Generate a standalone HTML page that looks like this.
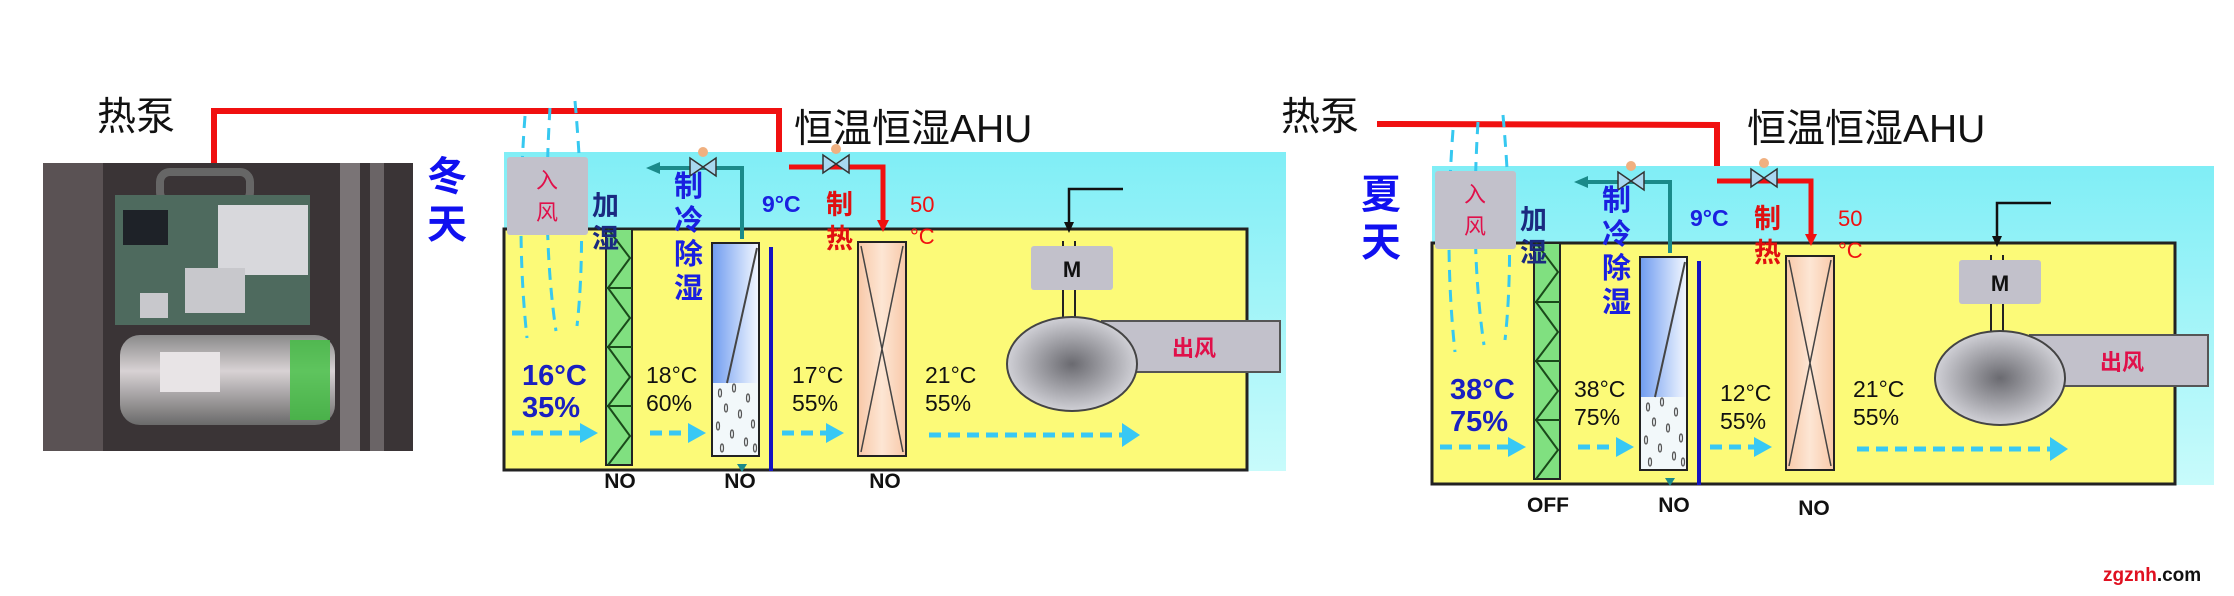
<!DOCTYPE html>
<html><head><meta charset="utf-8"><style>
html,body{margin:0;padding:0;background:#fff;}
svg{display:block;}
text{font-family:"Liberation Sans","Noto Sans CJK SC",sans-serif;}
</style></head><body>
<svg width="2234" height="596" viewBox="0 0 2234 596" xmlns="http://www.w3.org/2000/svg">
<defs>
<linearGradient id="cy" x1="0" y1="0" x2="0" y2="1"><stop offset="0" stop-color="#80eef6"/><stop offset="1" stop-color="#c8fbfb"/></linearGradient>
<linearGradient id="cc" x1="0" y1="0" x2="1" y2="0"><stop offset="0" stop-color="#6f9cf0"/><stop offset="1" stop-color="#f4f8ff"/></linearGradient>
<linearGradient id="hc" x1="0" y1="0" x2="1" y2="0"><stop offset="0" stop-color="#f8c8a8"/><stop offset=".5" stop-color="#fde6d4"/><stop offset="1" stop-color="#f8c8a8"/></linearGradient>
<radialGradient id="fan"><stop offset="0" stop-color="#6a6a70"/><stop offset="1" stop-color="#d0d0d6"/></radialGradient>
<linearGradient id="cyl" x1="0" y1="0" x2="0" y2="1"><stop offset="0" stop-color="#8a8a8a"/><stop offset=".4" stop-color="#d8d2d4"/><stop offset="1" stop-color="#6a6a6a"/></linearGradient>
<g id="base">
 <rect x="1432" y="166" width="782" height="319" fill="url(#cy)"/>
 <rect x="1432" y="243" width="743" height="241" fill="#fcfa78" stroke="#222" stroke-width="3"/>
 <g fill="none" stroke="#36c8f0" stroke-width="3" stroke-dasharray="12,8">
  <path d="M1453,130 Q1444,250 1455,352"/>
  <path d="M1478,122 Q1470,250 1484,345"/>
  <path d="M1503,115 Q1515,250 1505,340"/>
 </g>
 <rect x="1435" y="171" width="81" height="78" rx="3" fill="#c2c1cb"/>
 <rect x="1534" y="243" width="26" height="236" fill="#80e080" stroke="#222" stroke-width="2"/>
 <polyline points="1536,243 1558,272 1536,302 1558,332 1536,361 1558,391 1536,420 1558,450 1536,479" fill="none" stroke="#1a4a1a" stroke-width="2"/>
 <g stroke="#1a4a1a" stroke-width="2"><line x1="1534" y1="302" x2="1560" y2="302"/><line x1="1534" y1="361" x2="1560" y2="361"/><line x1="1534" y1="420" x2="1560" y2="420"/></g>
 <path d="M1670,253 V182 H1584" fill="none" stroke="#1a8a8a" stroke-width="4"/>
 <polygon points="1574,182 1588,176 1588,188" fill="#1a8a8a"/>
 <polygon points="1670,486 1665,478 1675,478" fill="#1a8a8a"/>
 <g stroke="#333" stroke-width="1.5" fill="#a8d8f0"><polygon points="1618,172 1644,190 1644,172 1618,190"/></g>
 <circle cx="1631" cy="166" r="5" fill="#f0b080"/>
 <rect x="1640" y="257" width="47" height="213" fill="url(#cc)" stroke="#222" stroke-width="2"/>
 <rect x="1641" y="397" width="45" height="72" fill="#f2f8fa"/>
 <g fill="none" stroke="#555" stroke-width="1.2">
  <ellipse cx="1648" cy="407" rx="1.5" ry="4"/><ellipse cx="1662" cy="402" rx="1.5" ry="4"/><ellipse cx="1676" cy="412" rx="1.5" ry="4"/>
  <ellipse cx="1654" cy="422" rx="1.5" ry="4"/><ellipse cx="1668" cy="428" rx="1.5" ry="4"/><ellipse cx="1681" cy="438" rx="1.5" ry="4"/>
  <ellipse cx="1646" cy="440" rx="1.5" ry="4"/><ellipse cx="1660" cy="448" rx="1.5" ry="4"/><ellipse cx="1674" cy="456" rx="1.5" ry="4"/>
  <ellipse cx="1650" cy="462" rx="1.5" ry="4"/><ellipse cx="1683" cy="462" rx="1.5" ry="4"/>
 </g>
 <line x1="1685" y1="262" x2="1655" y2="397" stroke="#444" stroke-width="2"/>
 <line x1="1699" y1="261" x2="1699" y2="485" stroke="#1414c0" stroke-width="4"/>
 <path d="M1717,181 H1811 V236" fill="none" stroke="#f01010" stroke-width="5"/>
 <polygon points="1811,246 1805,234 1817,234" fill="#f01010"/>
 <g stroke="#333" stroke-width="1.5" fill="#a8d8f0"><polygon points="1751,169 1777,187 1777,169 1751,187"/></g>
 <circle cx="1764" cy="163" r="5" fill="#f0b080"/>
 <rect x="1786" y="256" width="48" height="214" fill="url(#hc)" stroke="#222" stroke-width="2"/>
 <path d="M1789,260 L1831,466 M1831,260 L1789,466" stroke="#444" stroke-width="1.5"/>
 <path d="M2051,203 H1997 V238" fill="none" stroke="#111" stroke-width="2.5"/>
 <polygon points="1997,247 1992,236 2002,236" fill="#111"/>
 <line x1="1991" y1="255" x2="1991" y2="331" stroke="#222" stroke-width="2"/>
 <line x1="2003" y1="255" x2="2003" y2="331" stroke="#222" stroke-width="2"/>
 <rect x="1959" y="260" width="82" height="44" rx="3" fill="#c2c1cb"/>
 <rect x="2030" y="335" width="178" height="51" fill="#c2c1cb" stroke="#555" stroke-width="2"/>
 <ellipse cx="2000" cy="378" rx="65" ry="47" fill="url(#fan)" stroke="#444" stroke-width="2"/>
 <g stroke="#38c8f4" stroke-width="5" stroke-dasharray="12,7" fill="none">
  <line x1="1440" y1="447" x2="1508" y2="447"/><line x1="1578" y1="447" x2="1616" y2="447"/>
  <line x1="1710" y1="447" x2="1754" y2="447"/><line x1="1857" y1="449" x2="2050" y2="449"/>
 </g>
 <g fill="#38c8f4"><polygon points="1508,437 1526,447 1508,457"/><polygon points="1616,437 1634,447 1616,457"/><polygon points="1754,437 1772,447 1754,457"/><polygon points="2050,437 2068,449 2050,461"/></g>
</g>
</defs>

<!-- photo -->
<rect x="43" y="163" width="370" height="288" fill="#3a3436"/>
<rect x="43" y="163" width="60" height="288" fill="#5a5254"/>
<rect x="340" y="163" width="20" height="288" fill="#7a7476"/>
<rect x="370" y="163" width="14" height="288" fill="#6a6466"/>
<rect x="160" y="172" width="90" height="30" rx="10" fill="none" stroke="#666" stroke-width="8"/>
<rect x="115" y="195" width="195" height="130" fill="#4e6a5e"/>
<rect x="123" y="210" width="45" height="35" fill="#1e2228"/>
<rect x="218" y="205" width="90" height="70" fill="#d8d8dc"/>
<rect x="185" y="268" width="60" height="45" fill="#c8c8cc"/>
<rect x="140" y="293" width="28" height="25" fill="#c8c8cc"/>
<rect x="120" y="335" width="215" height="90" rx="20" fill="url(#cyl)"/>
<rect x="290" y="340" width="40" height="80" fill="#40c040" opacity=".8"/>
<rect x="160" y="352" width="60" height="40" fill="#e8e4e6"/>

<text x="97" y="130" font-size="39" fill="#111">热泵</text>
<polyline points="214,163 214,111 779,111 779,168" fill="none" stroke="#f01010" stroke-width="6"/>
<text x="794" y="142" font-size="39" fill="#111">恒温恒湿AHU</text>

<!-- winter -->
<g transform="translate(-928,-14)">
 <use href="#base"/>
 <text x="1475" y="202" font-size="22" fill="#e0104a" text-anchor="middle">入</text>
 <text x="1475" y="234" font-size="22" fill="#e0104a" text-anchor="middle">风</text>
 <text x="1520" y="229" font-size="27" font-weight="bold" fill="#1a2a80">加</text>
 <text x="1520" y="262" font-size="27" font-weight="bold" fill="#1a2a80">湿</text>
 <g font-size="29" font-weight="bold" fill="#1a20e0"><text x="1602" y="210">制</text><text x="1602" y="244">冷</text><text x="1602" y="278">除</text><text x="1602" y="312">湿</text></g>
 <text x="1690" y="226" font-size="23" font-weight="bold" fill="#1a20e0">9°C</text>
 <text x="1754" y="228" font-size="27" font-weight="bold" fill="#e01010">制</text>
 <text x="1754" y="262" font-size="27" font-weight="bold" fill="#e01010">热</text>
 <text x="1838" y="226" font-size="22" fill="#f01010">50</text>
 <text x="1838" y="258" font-size="22" fill="#f01010">°C</text>
 <text x="2000" y="291" font-size="22" font-weight="bold" fill="#111" text-anchor="middle">M</text>
 <text x="2122" y="370" font-size="22" font-weight="bold" fill="#e0104a" text-anchor="middle">出风</text>
 <text x="1450" y="399" font-size="29" font-weight="bold" fill="#1a20c0">16°C</text>
 <text x="1450" y="431" font-size="29" font-weight="bold" fill="#1a20c0">35%</text>
 <g font-size="23" fill="#111"><text x="1574" y="397">18°C</text><text x="1574" y="425">60%</text>
 <text x="1720" y="397">17°C</text><text x="1720" y="425">55%</text>
 <text x="1853" y="397">21°C</text><text x="1853" y="425">55%</text></g>
 <g font-size="21" font-weight="bold" fill="#111" text-anchor="middle"><text x="1548" y="502">NO</text><text x="1668" y="502">NO</text><text x="1813" y="502">NO</text></g>
</g>
<text x="427" y="190" font-size="40" font-weight="bold" fill="#1010f0">冬</text>
<text x="427" y="238" font-size="40" font-weight="bold" fill="#1010f0">天</text>

<!-- summer -->
<text x="1281" y="130" font-size="39" fill="#111">热泵</text>
<polyline points="1377,124 1717,125 1717,183" fill="none" stroke="#f01010" stroke-width="6"/>
<text x="1747" y="142" font-size="39" fill="#111">恒温恒湿AHU</text>
<use href="#base"/>
<text x="1475" y="202" font-size="22" fill="#e0104a" text-anchor="middle">入</text>
<text x="1475" y="234" font-size="22" fill="#e0104a" text-anchor="middle">风</text>
<text x="1520" y="229" font-size="27" font-weight="bold" fill="#1a2a80">加</text>
<text x="1520" y="262" font-size="27" font-weight="bold" fill="#1a2a80">湿</text>
<g font-size="29" font-weight="bold" fill="#1a20e0"><text x="1602" y="210">制</text><text x="1602" y="244">冷</text><text x="1602" y="278">除</text><text x="1602" y="312">湿</text></g>
<text x="1690" y="226" font-size="23" font-weight="bold" fill="#1a20e0">9°C</text>
<text x="1754" y="228" font-size="27" font-weight="bold" fill="#e01010">制</text>
<text x="1754" y="262" font-size="27" font-weight="bold" fill="#e01010">热</text>
<text x="1838" y="226" font-size="22" fill="#f01010">50</text>
<text x="1838" y="258" font-size="22" fill="#f01010">°C</text>
<text x="2000" y="291" font-size="22" font-weight="bold" fill="#111" text-anchor="middle">M</text>
<text x="2122" y="370" font-size="22" font-weight="bold" fill="#e0104a" text-anchor="middle">出风</text>
<text x="1450" y="399" font-size="29" font-weight="bold" fill="#1a20c0">38°C</text>
<text x="1450" y="431" font-size="29" font-weight="bold" fill="#1a20c0">75%</text>
<g font-size="23" fill="#111"><text x="1574" y="397">38°C</text><text x="1574" y="425">75%</text>
<text x="1720" y="401">12°C</text><text x="1720" y="429">55%</text>
<text x="1853" y="397">21°C</text><text x="1853" y="425">55%</text></g>
<g font-size="21" font-weight="bold" fill="#111" text-anchor="middle"><text x="1548" y="512">OFF</text><text x="1674" y="512">NO</text><text x="1814" y="515">NO</text></g>
<text x="1361" y="208" font-size="40" font-weight="bold" fill="#1010f0">夏</text>
<text x="1361" y="256" font-size="40" font-weight="bold" fill="#1010f0">天</text>

<text x="2103" y="581" font-size="19" font-weight="bold" font-family="Liberation Mono, monospace" fill="#e01020">zgznh<tspan fill="#111">.com</tspan></text>
</svg>
</body></html>
